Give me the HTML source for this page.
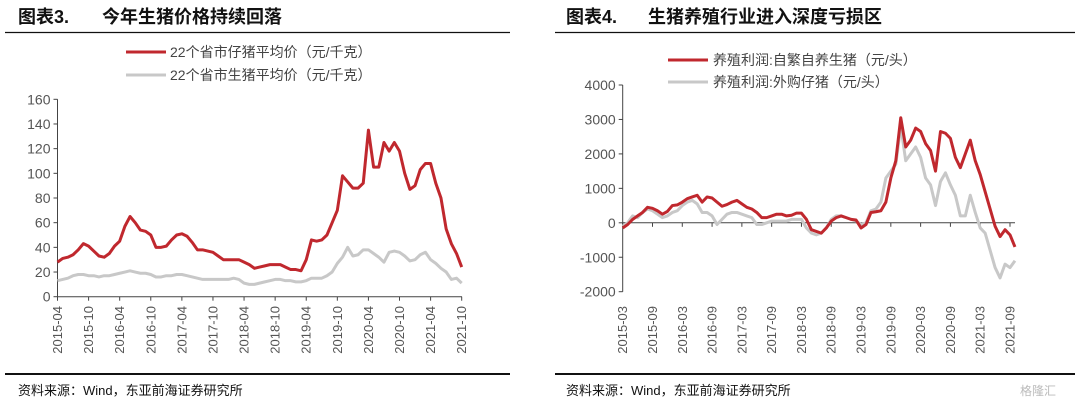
<!DOCTYPE html>
<html><head><meta charset="utf-8"><style>
body{margin:0;width:1080px;height:405px;background:#fff;overflow:hidden;font-family:"Liberation Sans","Noto Sans CJK SC",sans-serif}
svg text{font-family:"Liberation Sans","Noto Sans CJK SC",sans-serif}
</style></head><body>
<svg id="c" width="1080" height="405">
<g><text x="18" y="23" font-size="18" font-weight="bold" fill="#111">图表3.</text><text x="102" y="23" font-size="18" font-weight="bold" fill="#111">今年生猪价格持续回落</text></g>
<line x1="5" y1="32.5" x2="510" y2="32.5" stroke="#111" stroke-width="1.2"/>
<line x1="5" y1="374" x2="510" y2="374" stroke="#111" stroke-width="2"/>
<text x="18" y="395" font-size="13" fill="#111">资料来源：Wind，东亚前海证券研究所</text>
<g><text x="566" y="23" font-size="18" font-weight="bold" fill="#111">图表4.</text><text x="648" y="23" font-size="18" font-weight="bold" fill="#111">生猪养殖行业进入深度亏损区</text></g>
<line x1="555" y1="32.5" x2="1075" y2="32.5" stroke="#111" stroke-width="1.2"/>
<line x1="555" y1="374" x2="1075" y2="374" stroke="#111" stroke-width="2"/>
<text x="566" y="395" font-size="13" fill="#111">资料来源：Wind，东亚前海证券研究所</text>
<text x="1020" y="395" font-size="12" fill="#bbb">格隆汇</text>
<g>
<line x1="126" y1="52" x2="166" y2="52" stroke="#C0282E" stroke-width="3"/><text x="170" y="57" font-size="14" fill="#444">22个省市仔猪平均价（元/千克）</text>
<line x1="126" y1="75" x2="166" y2="75" stroke="#c8c8c8" stroke-width="3"/><text x="170" y="80" font-size="14" fill="#444">22个省市生猪平均价（元/千克）</text>
</g>
<g>
<line x1="668" y1="60" x2="708" y2="60" stroke="#C0282E" stroke-width="3"/><text x="713" y="65" font-size="14" fill="#444">养殖利润:自繁自养生猪（元/头）</text>
<line x1="668" y1="82" x2="708" y2="82" stroke="#c8c8c8" stroke-width="3"/><text x="713" y="87" font-size="14" fill="#444">养殖利润:外购仔猪（元/头）</text>
</g>
<g id="L"></g><g id="R"></g>
</svg>
<script>
const leftTicks=["2015-04","2015-10","2016-04","2016-10","2017-04","2017-10","2018-04","2018-10","2019-04","2019-10","2020-04","2020-10","2021-04","2021-10"];
const leftY=[0,20,40,60,80,100,120,140,160];
const piglet=[28,31,32,34,38,43,41,37,33,32,35,41,45,57,65,60,54,53,50,40,40,41,46,50,51,49,44,38,38,37,36,33,30,30,30,30,28,26,23,24,25,26,26,26,24,22,22,21,30,46,45,46,50,60,70,98,93,88,88,92,135,105,105,125,118,125,118,100,87,90,103,108,108,92,80,55,43,35,24];
const hog=[13,14,15,17,18,18,17,17,16,17,17,18,19,20,21,20,19,19,18,16,16,17,17,18,18,17,16,15,14,14,14,14,14,14,15,14,11,10,10,11,12,13,14,14,13,13,12,12,13,15,15,15,17,20,27,32,40,33,34,38,38,35,32,28,36,37,36,33,29,30,34,36,30,27,23,20,14,15,11];
const rightTicks=["2015-03","2015-09","2016-03","2016-09","2017-03","2017-09","2018-03","2018-09","2019-03","2019-09","2020-03","2020-09","2021-03","2021-09"];
const rightY=[-2000,-1000,0,1000,2000,3000,4000];
const selfBred=[-150,-50,100,200,300,450,420,350,250,330,500,520,600,700,750,800,600,750,720,600,480,530,600,650,550,450,400,300,150,150,200,250,250,200,220,280,280,100,-200,-250,-300,-150,50,150,200,150,100,80,-150,-50,300,320,350,600,1300,1800,3050,2200,2400,2750,2650,2300,2100,1500,2650,2600,2450,1900,1600,2000,2400,1800,1400,900,400,-100,-400,-200,-350,-700];
const bought=[-100,0,200,150,300,400,350,250,150,200,300,350,500,600,650,550,300,300,200,-50,100,250,300,300,250,200,150,-50,-50,0,50,50,50,50,100,100,100,-150,-300,-350,-300,-150,100,200,200,150,100,50,-50,0,350,400,600,1300,1500,1700,2800,1800,2000,2200,1900,1300,1100,500,1200,1450,1100,800,200,200,800,300,-150,-300,-800,-1300,-1600,-1200,-1300,-1100];
const NS="http://www.w3.org/2000/svg";
function mk(p,t,a){const e=document.createElementNS(NS,t);for(const k in a)e.setAttribute(k,a[k]);p.appendChild(e);return e;}
function chart(g,o){
 const xs=i=>o.x0+i*o.mw, ys=v=>o.yb-(v-o.ymin)*o.k;
 const ax=mk(g,'line',{x1:o.x0,y1:ys(o.ymax),x2:o.x0,y2:ys(o.ymin),stroke:'#444','stroke-width':1});
 
 
 const bx=mk(g,'line',{x1:o.x0,y1:ys(o.base),x2:o.xend,y2:ys(o.base),stroke:'#444','stroke-width':1});
 
 
 o.yt.forEach(v=>{const y=ys(v);mk(g,'line',{x1:o.x0-4,y1:y,x2:o.x0,y2:y,stroke:'#444'});
  const t=mk(g,'text',{x:o.x0-7,y:y+5,'font-size':14,fill:'#555','text-anchor':'end'});t.textContent=v;
  
  });
 o.xt.forEach((s,i)=>{const x=xs(i*6);mk(g,'line',{x1:x,y1:ys(o.base),x2:x,y2:ys(o.base)+4,stroke:'#444'});
  const t=mk(g,'text',{x:0,y:0,'font-size':13,fill:'#555','text-anchor':'end',transform:`translate(${x+4.5},${o.ty}) rotate(-90)`});t.textContent=s;
  
  });
 o.series.forEach(s=>{const p=mk(g,'polyline',{points:s.d.map((v,i)=>xs(i)+','+ys(v)).join(' '),fill:'none',stroke:s.c,'stroke-width':3,'stroke-linejoin':'round'});
  
  });
}
chart(document.getElementById('L'),{n:'left',x0:57.5,mw:(461.7-57.5)/78,yb:296.7,ymin:0,ymax:160,k:197.4/160,base:0,xend:462,yt:leftY,xt:leftTicks,ty:306,
 series:[{d:hog,c:'#c8c8c8',n:'hog-price-line'},{d:piglet,c:'#C0282E',n:'piglet-price-line'}]});
chart(document.getElementById('R'),{n:'right',x0:622.7,mw:(1010-622.7)/78,yb:291.7,ymin:-2000,ymax:4000,k:206.7/6000,base:0,xend:1015,yt:rightY,xt:rightTicks,ty:306,
 series:[{d:bought,c:'#c8c8c8',n:'bought-piglet-profit-line'},{d:selfBred,c:'#C0282E',n:'self-bred-profit-line'}]});
</script>
</body></html>
